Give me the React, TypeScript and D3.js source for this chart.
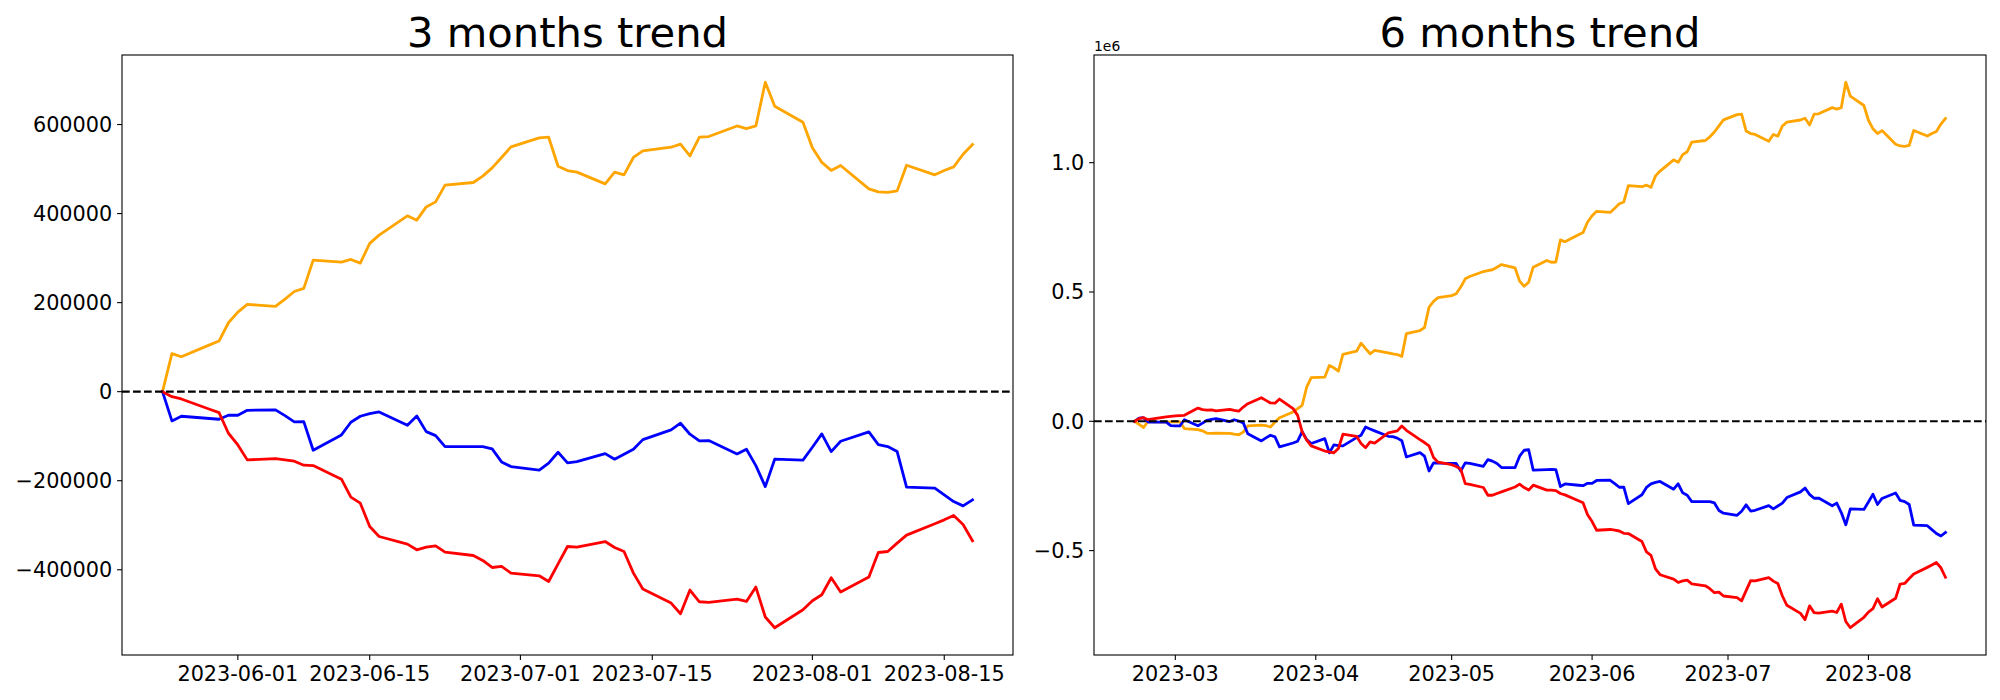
import React, { useEffect, useRef } from "react";
import * as d3 from "d3";

// business days shown in each panel
const start3m = "2023-05-24";
const start6m = "2023-02-20";
const endDate = "2023-08-18";

const orange3m = [
  0, 85300, 78500,
  105000, 113700, 154800, 178800, 196000,
  191600, 208000, 225000, 232000, 295500,
  291000, 297000, 288800, 333000, 351600,
  395000, 385200, 415000, 426300, 463800,
  469800, 484000, 502600, 526000, 549700,
  570000, 571500, 506400, 496700, 493000,
  466700, 493000, 486900, 526000, 540700,
  549000, 555800, 529500, 571500, 573000,
  596800, 591000, 596800, 694900, 641000,
  605000, 548000, 515000, 497000, 508000,
  455500, 448700, 447400, 451000, 508600,
  487000, 496700, 504800, 533300, 555000,
];

const blue3m = [
  0, -65700, -55200,
  -60300, -62000, -53000, -53000, -41800,
  -41000, -53800, -68000, -67300, -131500,
  -97200, -68700, -55200, -49400, -45500,
  -75400, -54500, -89700, -98700, -123400,
  -123400, -123400, -128600, -157700, -168300,
  -176400, -160700, -136000, -160000, -157000,
  -139100, -151700, -140500, -129200, -107700,
  -85900, -70900, -95600, -110600, -109900,
  -139800, -129200, -166000, -213200, -151700,
  -153900, -124800, -94900, -134600, -111300,
  -90400, -118900, -123400, -134600, -214500,
  -216700, -231800, -246800, -256500, -243000,
];

const red3m = [
  0, -11200, -16400,
  -39400, -47100, -93400, -119600, -153200,
  -150300, -153200, -156200, -165100, -166000,
  -196600, -237000, -250400, -302900, -325300,
  -342400, -355200, -349100, -346200, -360300,
  -368000, -379200, -394900, -392600, -407500,
  -413500, -426300, -386600, -347800, -349100,
  -336600, -350000, -359000, -407500, -443400,
  -474800, -498800, -445600, -471900, -473400,
  -465800, -471200, -438900, -506200, -530200,
  -489800, -469600, -456100, -418000, -450100,
  -416400, -361200, -359000, -340100, -322200,
  -296800, -287900, -278200, -298400, -335000,
];

const orange6m = [
  0, -12000, -24000, 1000, -2000,
  -3000, -2000, -1000, -2000, -28000,
  -32000, -37000, -46000, -47000, -46000,
  -47000, -50000, -52000, -42000, -18000,
  -15000, -17000, -22000, -3000, 14000,
  36000, 49000, 62000, 132000, 169000,
  171000, 216000, 207000, 194000, 259000,
  271000, 302000, 281000, 261000, 274000,
  265000, 261000, 258000, 251000, 339000,
  351000, 362000, 441000, 464000, 478000,
  486000, 493000, 519000, 551000, 560000,
  579000, 583000, 586000, 596000, 606000,
  593000, 542000, 522000, 538000, 596000,
  622000, 615000,
  616000, 701300, 694500,
  721000, 729700, 770800, 794800, 812000,
  807600, 824000, 841000, 848000, 911500,
  907000, 913000, 904800, 949000, 967600,
  1011000, 1001200, 1031000, 1042300, 1079800,
  1085800, 1100000, 1118600, 1142000, 1165700,
  1186000, 1187500, 1122400, 1112700, 1109000,
  1082700, 1109000, 1102900, 1142000, 1156700,
  1165000, 1171800, 1145500, 1187500, 1189000,
  1212800, 1207000, 1212800, 1310900, 1257000,
  1221000, 1164000, 1131000, 1113000, 1124000,
  1071500, 1064700, 1063400, 1067000, 1124600,
  1103000, 1112700, 1120800, 1149300, 1171000,
];

const blue6m = [
  0, 12000, 14000, -3000, -3000,
  -3000, -17000, -18000, -18000, 6000,
  -17000, -7000, 4000, 7000, 10000,
  -1000, 6000, 1000, -6000, -48000,
  -76000, -64000, -54000, -60000, -99000,
  -84000, -77000, -40000, -71000, -86000,
  -67000, -122000, -91000, -94000, -95000,
  -63000, -54000, -22000, -30000, -37000,
  -58000, -59000, -65000, -75000, -138000,
  -121000, -135000, -192000, -161000, -162000,
  -163000, -163000, -192000, -161000, -163000,
  -174000, -148000, -154000, -163000, -179000,
  -179000, -135000, -112000, -110000, -189000,
  -187000, -186000,
  -187000, -252700, -242200,
  -247300, -249000, -240000, -240000, -228800,
  -228000, -240800, -255000, -254300, -318500,
  -284200, -255700, -242200, -236400, -232500,
  -262400, -241500, -276700, -285700, -310400,
  -310400, -310400, -315600, -344700, -355300,
  -363400, -347700, -323000, -347000, -344000,
  -326100, -338700, -327500, -316200, -294700,
  -272900, -257900, -282600, -297600, -296900,
  -326800, -316200, -353000, -400200, -338700,
  -340900, -311800, -281900, -321600, -298300,
  -277400, -305900, -310400, -321600, -401500,
  -403700, -418800, -433800, -443500, -430000,
];

const red6m = [
  0, 10000, 14000, 6000, 9000,
  17000, 19000, 21000, 22000, 23000,
  51000, 45000, 43000, 44000, 40000,
  46000, 42000, 39000, 55000, 68000,
  91000, 81000, 71000, 70000, 86000,
  49000, 23000, -41000, -73000, -95000,
  -115000, -118000, -122000, -105000, -50000,
  -58000, -86000, -102000, -80000, -84000,
  -45000, -41000, -37000, -18000, -35000,
  -71000, -82000, -95000, -140000, -158000,
  -168000, -175000, -185000, -241000, -244000,
  -256000, -286000, -286000, -279000, -273000,
  -254000, -243000, -256000, -266000, -247000,
  -266000, -266000,
  -268000, -279200, -284400,
  -307400, -315100, -361400, -387600, -421200,
  -418300, -421200, -424200, -433100, -434000,
  -464600, -505000, -518400, -570900, -593300,
  -610400, -623200, -617100, -614200, -628300,
  -636000, -647200, -662900, -660600, -675500,
  -681500, -694300, -654600, -615800, -617100,
  -604600, -618000, -627000, -675500, -711400,
  -742800, -766800, -713600, -739900, -741400,
  -733800, -739200, -706900, -774200, -798200,
  -757800, -737600, -724100, -686000, -718100,
  -684400, -629200, -627000, -608100, -590200,
  -564800, -555900, -546200, -566400, -603000,
];

const xTicks3m = ["2023-06-01", "2023-06-15", "2023-07-01", "2023-07-15", "2023-08-01", "2023-08-15"];
const xTicks6m = ["2023-03-01", "2023-04-01", "2023-05-01", "2023-06-01", "2023-07-01", "2023-08-01"];
const xLabels6m = ["2023-03", "2023-04", "2023-05", "2023-06", "2023-07", "2023-08"];
const yTicks3m = [-400000, -200000, 0, 200000, 400000, 600000];
const yTicks6m = [-500000, 0, 500000, 1000000];

const parse = d3.timeParse("%Y-%m-%d");

function weekdays(from: string, to: string): Date[] {
  const a = parse(from)!;
  const b = d3.timeDay.offset(parse(to)!, 1);
  return d3.timeDay.range(a, b).filter((d) => d.getDay() !== 0 && d.getDay() !== 6);
}

const minus = (s: string) => s.replace("-", "\u2212");

interface Panel {
  left: number;
  width: number;
  title: string;
  dates: Date[];
  series: { values: number[]; color: string }[];
  xTicks: string[];
  xLabels: string[];
  yTicks: number[];
  yFormat: (v: number) => string;
  offsetText?: string;
}

const FONT = "DejaVu Sans, sans-serif";
const top = 55;
const height = 600;

function drawPanel(svg: d3.Selection<SVGSVGElement, unknown, null, undefined>, p: Panel) {
  const g = svg.append("g");
  const [d0, d1] = d3.extent(p.dates) as [Date, Date];
  const span = +d1 - +d0;
  const xScale = d3
    .scaleTime()
    .domain([new Date(+d0 - span * 0.05), new Date(+d1 + span * 0.05)])
    .range([p.left, p.left + p.width]);

  const all = p.series.flatMap((s) => s.values);
  const [lo, hi] = d3.extent(all) as [number, number];
  const pad = (hi - lo) * 0.05;
  const yScale = d3
    .scaleLinear()
    .domain([lo - pad, hi + pad])
    .range([top + height, top]);

  const line = d3
    .line<number>()
    .x((_, i) => xScale(p.dates[i]))
    .y((v) => yScale(v));

  p.series.forEach((s) => {
    g.append("path")
      .attr("d", line(s.values))
      .attr("fill", "none")
      .attr("stroke", s.color)
      .attr("stroke-width", 2.8)
      .attr("stroke-linejoin", "round")
      .attr("stroke-linecap", "square");
  });

  // zero line
  g.append("line")
    .attr("x1", p.left)
    .attr("x2", p.left + p.width)
    .attr("y1", yScale(0))
    .attr("y2", yScale(0))
    .attr("stroke", "black")
    .attr("stroke-width", 2.08)
    .attr("stroke-dasharray", "7.7,3.3");

  // x ticks
  p.xTicks.forEach((t, i) => {
    const x = xScale(parse(t)!);
    g.append("line")
      .attr("x1", x)
      .attr("x2", x)
      .attr("y1", top + height)
      .attr("y2", top + height + 4.9)
      .attr("stroke", "black")
      .attr("stroke-width", 1.1);
    g.append("text")
      .attr("x", x)
      .attr("y", top + height + 26)
      .attr("text-anchor", "middle")
      .style("font-family", FONT)
      .style("font-size", "20.8px")
      .style("fill", "black")
      .text(p.xLabels[i]);
  });

  // y ticks
  p.yTicks.forEach((t) => {
    const y = yScale(t);
    g.append("line")
      .attr("x1", p.left - 4.9)
      .attr("x2", p.left)
      .attr("y1", y)
      .attr("y2", y)
      .attr("stroke", "black")
      .attr("stroke-width", 1.1);
    g.append("text")
      .attr("x", p.left - 9.7)
      .attr("y", y + 7.5)
      .attr("text-anchor", "end")
      .style("font-family", FONT)
      .style("font-size", "20.8px")
      .style("fill", "black")
      .text(p.yFormat(t));
  });

  if (p.offsetText) {
    g.append("text")
      .attr("x", p.left)
      .attr("y", top - 4.5)
      .style("font-family", FONT)
      .style("font-size", "13.9px")
      .style("fill", "black")
      .text(p.offsetText);
  }

  // title
  g.append("text")
    .attr("x", p.left + p.width / 2)
    .attr("y", top - 8.3)
    .attr("text-anchor", "middle")
    .style("font-family", FONT)
    .style("font-size", "41.7px")
    .style("fill", "black")
    .text(p.title);

  // frame
  g.append("rect")
    .attr("x", p.left)
    .attr("y", top)
    .attr("width", p.width)
    .attr("height", height)
    .attr("fill", "none")
    .attr("stroke", "black")
    .attr("stroke-width", 1.1);
}

const App: React.FC = () => {
  const svgRef = useRef<SVGSVGElement | null>(null);

  useEffect(() => {
    const svg = d3.select(svgRef.current!);
    svg.selectAll("*").remove();

    svg.append("rect").attr("width", 2000).attr("height", 700).attr("fill", "white");

    drawPanel(svg, {
      left: 122,
      width: 891,
      title: "3 months trend",
      dates: weekdays(start3m, endDate),
      series: [
        { values: orange3m, color: "orange" },
        { values: blue3m, color: "blue" },
        { values: red3m, color: "red" },
      ],
      xTicks: xTicks3m,
      xLabels: xTicks3m,
      yTicks: yTicks3m,
      yFormat: (v) => minus(d3.format("d")(v)),
    });

    drawPanel(svg, {
      left: 1094,
      width: 892,
      title: "6 months trend",
      dates: weekdays(start6m, endDate),
      series: [
        { values: orange6m, color: "orange" },
        { values: blue6m, color: "blue" },
        { values: red6m, color: "red" },
      ],
      xTicks: xTicks6m,
      xLabels: xLabels6m,
      yTicks: yTicks6m,
      yFormat: (v) => minus((v / 1e6).toFixed(1)),
      offsetText: "1e6",
    });
  }, []);

  return (
    <svg
      ref={svgRef}
      width={2000}
      height={700}
      style={{ position: "absolute", left: 0, top: 0, display: "block" }}
    />
  );
};

export default App;
